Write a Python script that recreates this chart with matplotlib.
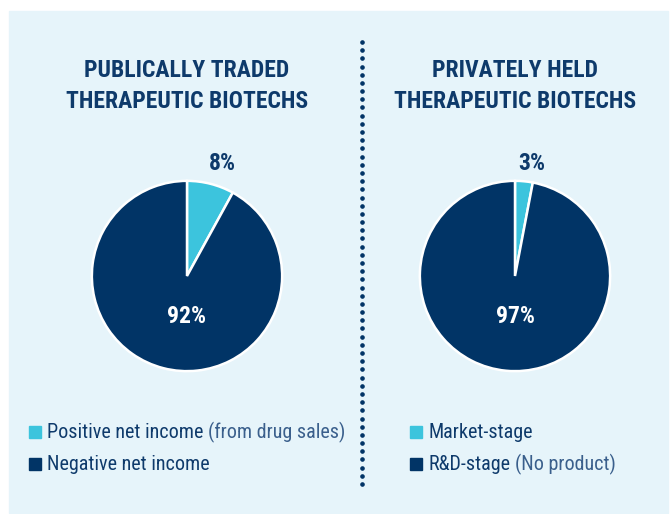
import matplotlib
matplotlib.use("Agg")
from matplotlib import pyplot as plt
from matplotlib.patches import Rectangle
import numpy as np

# data
titles = ["PUBLICALLY TRADED\nTHERAPEUTIC BIOTECHS",
          "PRIVATELY HELD\nTHERAPEUTIC BIOTECHS"]
public_shares = [8, 92]
private_shares = [3, 97]
public_labels = ["Positive net income", "Negative net income"]
public_notes = ["(from drug sales)", ""]
private_labels = ["Market-stage", "R&D-stage"]
private_notes = ["", "(No product)"]

LIGHT = "#3cc4dd"
DARK = "#013466"
NAVY_TEXT = "#0e3a6b"
BG = "#e6f4fa"
FONT = ["Roboto Condensed", "DejaVu Sans"]

fig = plt.figure(figsize=(6.71, 5.14), dpi=100)
W, H = 671, 514


def fx(px):
    return px / W


def fy(py):
    return 1 - py / H


fig.patches.append(Rectangle((fx(9), fy(513)), fx(659), 502 / H,
                             transform=fig.transFigure, color=BG, zorder=-5))

# dotted divider
ys = np.linspace(42, 484, 55)
fig.add_artist(plt.Line2D([fx(361.5)] * len(ys), [fy(y) for y in ys],
                          transform=fig.transFigure, linestyle="none",
                          marker="o", markersize=2.3, color=DARK))


def draw_pie(cx, title, shares, labels, notes, legend_x):
    r = 95
    ax = fig.add_axes([fx(cx - r - 3), fy(276 + r + 3), 2 * (r + 3) / W, 2 * (r + 3) / H])
    ax.patch.set_visible(False)
    wedges, _ = ax.pie(shares, colors=[LIGHT, DARK], startangle=90,
                       counterclock=False, radius=1,
                       wedgeprops=dict(edgecolor="white", linewidth=1.8))
    ax.set_xlim(-1.03, 1.03)
    ax.set_ylim(-1.03, 1.03)
    ax.set_aspect("equal")
    ax.axis("off")
    # small slice label above the pie, big slice label inside
    w = wedges[0]
    mid = np.deg2rad((w.theta1 + w.theta2) / 2)
    ax.text(1.23 * np.cos(mid) + 0.065, 1.18, "%d%%" % shares[0],
            ha="center", va="center", fontsize=17, fontweight="bold",
            color=NAVY_TEXT, family=FONT, clip_on=False)
    ax.text(0, -0.43, "%d%%" % shares[1], ha="center", va="center",
            fontsize=17, fontweight="bold", color="white", family=FONT)

    fig.text(fx(cx), fy(86), title, ha="center", va="center",
             fontsize=17, fontweight="bold", color=NAVY_TEXT, family=FONT,
             linespacing=1.4)

    for i, (lab, note) in enumerate(zip(labels, notes)):
        y = 432 + 32 * i
        fig.patches.append(Rectangle((fx(legend_x), fy(y + 6)), 12 / W, 12 / H,
                                     transform=fig.transFigure,
                                     color=[LIGHT, DARK][i]))
        t = fig.text(fx(legend_x + 18), fy(y), lab, ha="left", va="center",
                     fontsize=14.5, color=NAVY_TEXT, family=FONT)
        if note:
            fig.canvas.draw()
            bb = t.get_window_extent()
            fig.text(bb.x1 / W + fx(5), fy(y), note, ha="left", va="center",
                     fontsize=14.5, color="#3a5f8c", family=FONT)


draw_pie(187, titles[0], public_shares, public_labels, public_notes, 29)
draw_pie(515, titles[1], private_shares, private_labels, private_notes, 410)

fig.savefig("out.png", dpi=100, facecolor="white")
